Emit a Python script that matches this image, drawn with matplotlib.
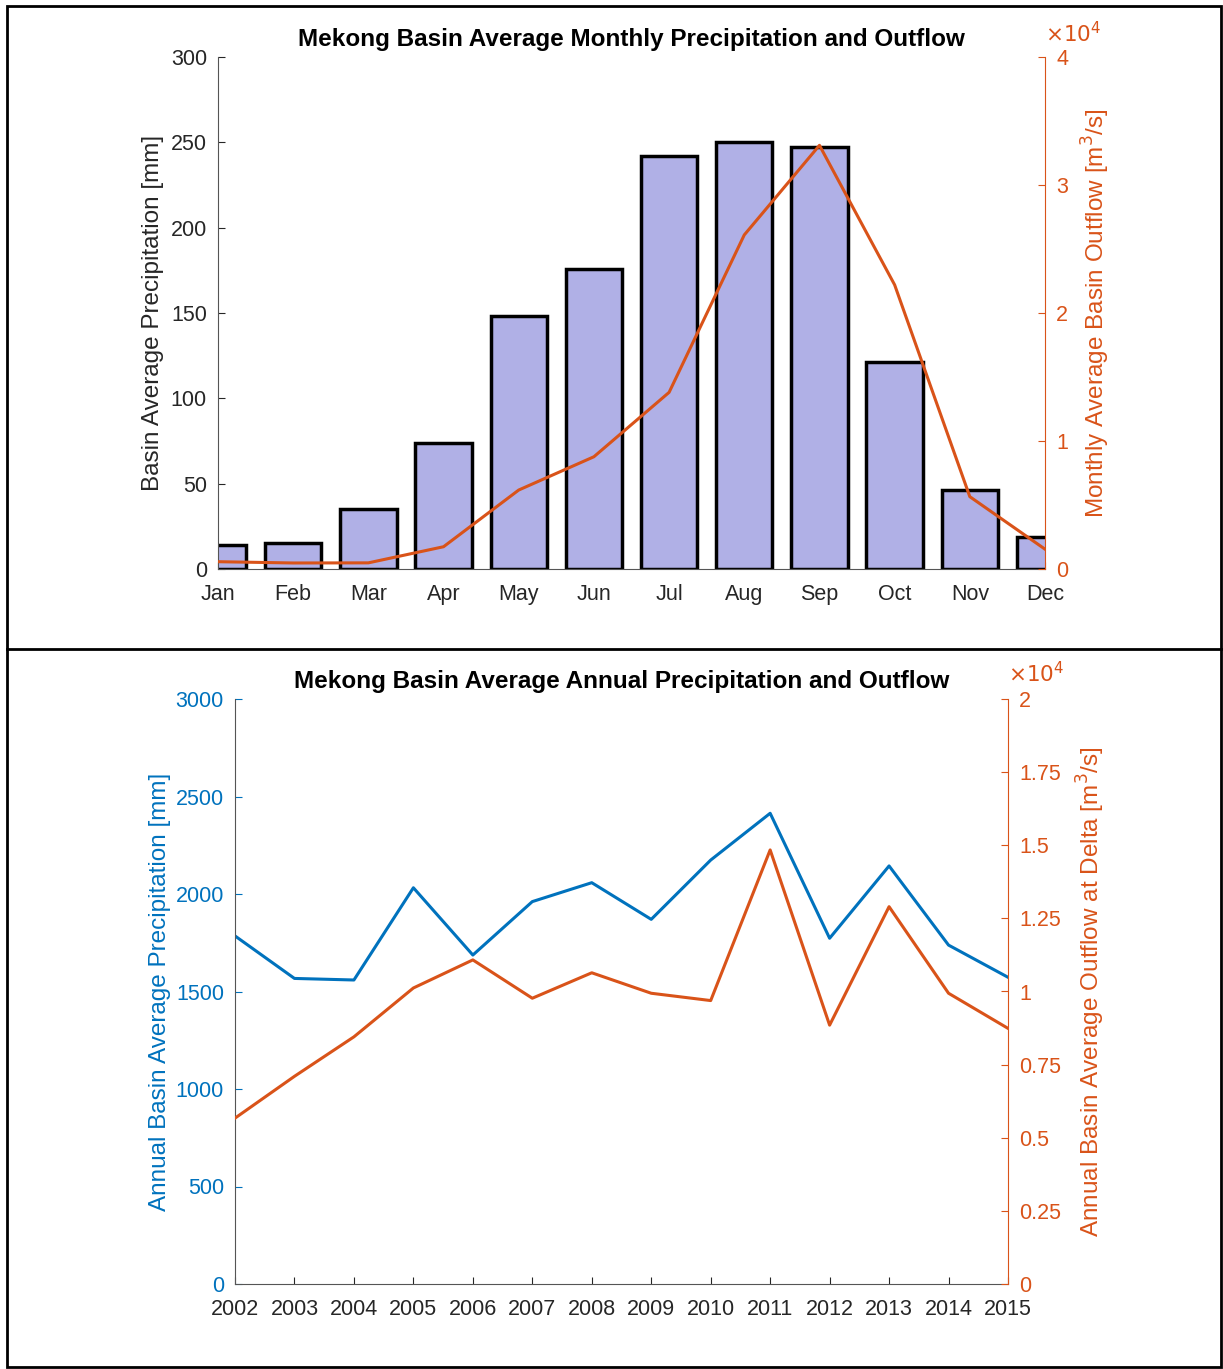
import matplotlib.pyplot as plt
from matplotlib.ticker import FuncFormatter
from matplotlib.patches import Rectangle
from matplotlib.lines import Line2D

plt.rcParams['font.family'] = ['Liberation Sans', 'DejaVu Sans']

months = ['Jan', 'Feb', 'Mar', 'Apr', 'May', 'Jun', 'Jul', 'Aug', 'Sep', 'Oct', 'Nov', 'Dec']
monthly_precip = [14, 15, 35, 74, 148, 176, 242, 250, 247, 121, 46, 19]          # mm
monthly_outflow = [570, 470, 480, 1740, 6170, 8770, 13800, 26100, 33100, 22200, 5650, 1550]  # m3/s

years = [2002, 2003, 2004, 2005, 2006, 2007, 2008, 2009, 2010, 2011, 2012, 2013, 2014, 2015]
annual_precip = [1785, 1567, 1559, 2032, 1687, 1961, 2058, 1870, 2174, 2414, 1773, 2144, 1738, 1573]
annual_outflow = [5670, 7100, 8450, 10120, 11080, 9770, 10640, 9940, 9690, 14840, 8850, 12900, 9940, 8740]

BLUE = '#0072BD'
ORANGE = '#D95319'
DARK = '#262626'
FS = 15.5
LFS = 17.5

fig = plt.figure(figsize=(12.23, 13.69), dpi=100)

# panel frames
W, H = 1223, 1369
fig.patches.append(Rectangle((7 / W, 1 - 1367 / H), (1221 - 7) / W, (1367 - 6) / H,
                             transform=fig.transFigure, fill=False, ec='black', lw=2))
fig.lines.append(Line2D([7 / W, 1221 / W], [1 - 649 / H, 1 - 649 / H],
                        transform=fig.transFigure, color='black', lw=2))


def style_axis(ax):
    ax.tick_params(direction='in', labelsize=FS, length=5)
    ax.tick_params(axis='x', pad=11)
    ax.tick_params(axis='y', pad=8)
    ax.spines['top'].set_visible(False)


# ---- monthly panel ----
ax1 = fig.add_axes([218 / W, 1 - 569 / H, 827 / W, 512 / H])
x = list(range(1, 13))
ax1.bar(x, monthly_precip, width=0.75, color='#B0B0E6', edgecolor='black', linewidth=2.5, zorder=2)
ax1.set_xlim(1, 12)
ax1.set_ylim(0, 300)
ax1.set_xticks(x)
ax1.set_xticklabels(months)
ax1.set_ylabel('Basin Average Precipitation [mm]', fontsize=LFS, color=DARK, labelpad=5)
ax1.set_title('Mekong Basin Average Monthly Precipitation and Outflow',
              fontsize=LFS, fontweight='bold', pad=8)
style_axis(ax1)
ax1.tick_params(colors=DARK)
ax1.spines['right'].set_visible(False)
for s in ('left', 'bottom'):
    ax1.spines[s].set_color('#555555')

ax1r = ax1.twinx()
ax1r.plot(x, monthly_outflow, color=ORANGE, lw=2.2, zorder=3)
ax1r.set_ylim(0, 40000)
ax1r.set_yticks([0, 10000, 20000, 30000, 40000])
ax1r.yaxis.set_major_formatter(FuncFormatter(lambda v, p: f'{v / 1e4:g}'))
ax1r.set_ylabel('Monthly Average Basin Outflow [m$^3$/s]', fontsize=LFS, color=ORANGE, labelpad=8)
style_axis(ax1r)
ax1r.tick_params(colors=ORANGE)
ax1r.spines['right'].set_color(ORANGE)
ax1r.spines['left'].set_visible(False)
ax1r.spines['bottom'].set_visible(False)
ax1r.text(1.0, 1.02, r'$\times10^4$', transform=ax1r.transAxes, color=ORANGE,
          fontsize=FS, ha='left', va='bottom')

# ---- annual panel ----
ax2 = fig.add_axes([235 / W, 1 - 1284 / H, 773 / W, 585 / H])
ax2.plot(years, annual_precip, color=BLUE, lw=2.2)
ax2.set_xlim(2002, 2015)
ax2.set_ylim(0, 3000)
ax2.set_xticks(years)
ax2.set_yticks(range(0, 3001, 500))
ax2.set_ylabel('Annual Basin Average Precipitation [mm]', fontsize=LFS, color=BLUE, labelpad=3)
ax2.set_title('Mekong Basin Average Annual Precipitation and Outflow',
              fontsize=LFS, fontweight='bold', pad=8)
style_axis(ax2)
ax2.tick_params(axis='x', colors=DARK)
ax2.tick_params(axis='y', colors=BLUE)
ax2.spines['left'].set_color('#555555')
ax2.spines['bottom'].set_color('#555555')
ax2.spines['right'].set_visible(False)

ax2r = ax2.twinx()
ax2r.plot(years, annual_outflow, color=ORANGE, lw=2.2)
ax2r.set_ylim(0, 20000)
ax2r.set_yticks(range(0, 20001, 2500))
ax2r.yaxis.set_major_formatter(FuncFormatter(lambda v, p: f'{v / 1e4:g}'))
ax2r.set_ylabel('Annual Basin Average Outflow at Delta [m$^3$/s]', fontsize=LFS, color=ORANGE, labelpad=10)
style_axis(ax2r)
ax2r.tick_params(colors=ORANGE)
ax2r.spines['right'].set_color(ORANGE)
ax2r.spines['left'].set_visible(False)
ax2r.spines['bottom'].set_visible(False)
ax2r.text(1.0, 1.02, r'$\times10^4$', transform=ax2r.transAxes, color=ORANGE,
          fontsize=FS, ha='left', va='bottom')

fig.savefig('out.png', dpi=100)
